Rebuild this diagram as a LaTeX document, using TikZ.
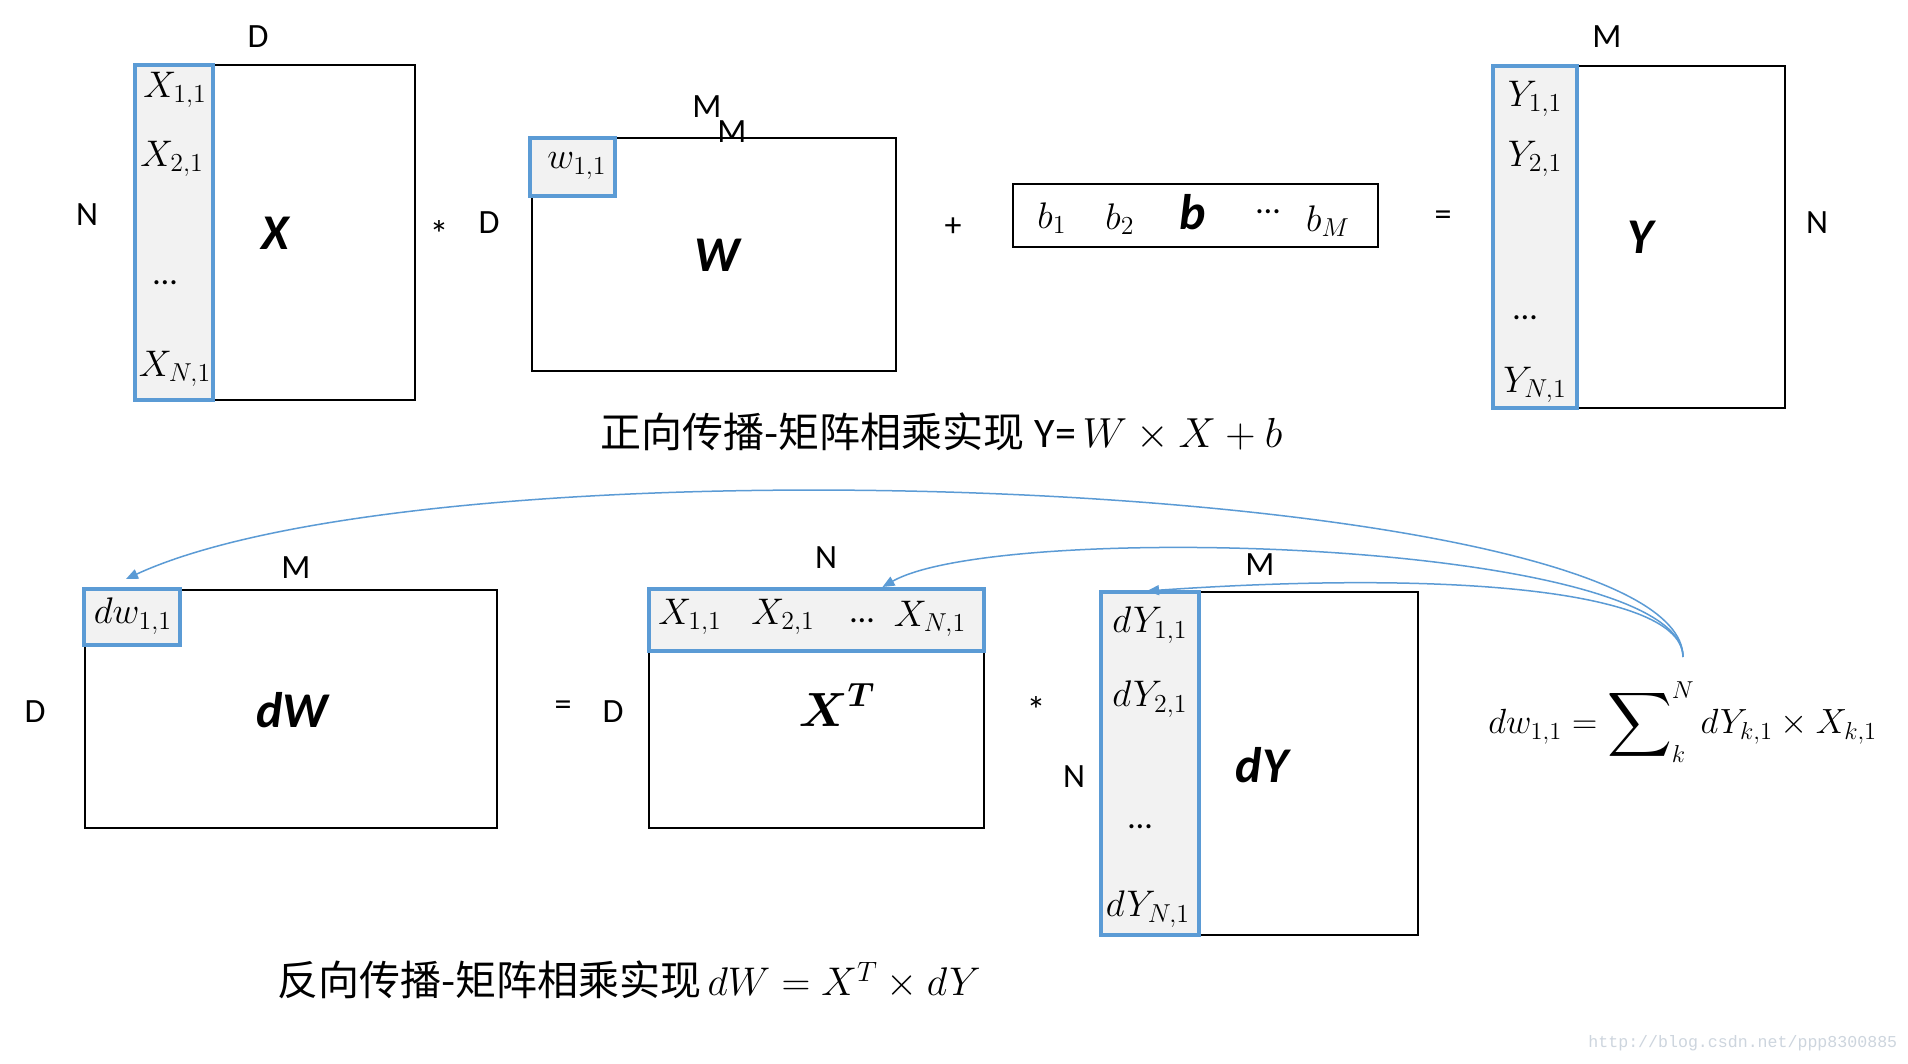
\RequirePackage{fix-cm}
\documentclass[tikz,border=0pt]{standalone}
\usepackage{amsmath}
\usepackage{graphicx}
\usepackage{fontspec}
\newfontfamily\carl{Carlito}
\newfontfamily\cjk{Noto Sans CJK SC}
\newfontfamily\wmfont{Liberation Mono}
\usetikzlibrary{arrows.meta,calc}
\definecolor{mblue}{RGB}{91,155,213}
\definecolor{cellgray}{RGB}{242,242,242}
\definecolor{wmgray}{RGB}{205,213,222}
\begin{document}
\begin{tikzpicture}[x=0.5pt,y=-0.5pt,
  mat/.style={draw=black,line width=1.3pt,inner sep=0pt,outer sep=0pt,anchor=north west},
  sel/.style={draw=mblue,fill=cellgray,line width=2pt,inner sep=0pt,outer sep=0pt,anchor=north west},
  dim/.style={font=\carl\fontsize{17}{20}\selectfont,inner sep=0pt},
  op/.style={font=\carl\fontsize{19}{22}\selectfont,inner sep=0pt},
  cell/.style={font=\fontsize{18.5}{22}\selectfont,inner sep=0pt},
  big/.style={font=\carl\bfseries\itshape\fontsize{25}{30}\selectfont,inner sep=0pt},
  flow/.style={draw=mblue,line width=0.75pt,-{Triangle[length=6pt,width=5pt]}}
]
\fill[white] (0,0) rectangle (1908,1064);
\useasboundingbox (0,0) rectangle (1908,1064);

% ---------- forward: X ----------
\node[mat,minimum width=140pt,minimum height=167.5pt] (Xm) at (135,65) {};
\node[sel,minimum width=39pt,minimum height=167.5pt] (Xc) at (135,65) {};
\node[dim] (dX) at (258,37) {D};
\node[dim] (nX) at (87,215) {N};
\node[cell] (x11) at (175,90) {$X_{1,1}$};
\node[cell] (x21) at (172,159) {$X_{2,1}$};
\node[dim] (xdots) at (165,283) {…};
\node[cell] (xn1) at (175,369) {$X_{N,1}$};
\node[big] (Xl) at (275,233) {X};
\node[op] (star1) at (439,234) {*};

% ---------- W ----------
\node[mat,minimum width=182pt,minimum height=116.5pt] (Wm) at (532,138) {};
\node[sel,minimum width=42.5pt,minimum height=29pt] (wc) at (530,138) {};
\node[dim] (dW) at (489,223) {D};
\node[dim] (mW1) at (707,107) {M};
\node[dim] (mW2) at (732,132) {M};
\node[cell] (w11) at (577,166) {$w_{1,1}$};
\node[big] (Wl) at (717,255) {W};

% ---------- b ----------
\node[dim] (plus) at (953,227) {+};
\node[mat,minimum width=182.5pt,minimum height=31.5pt] (bm) at (1013,184) {};
\node[cell] (b1) at (1052,218) {$b_1$};
\node[cell] (b2) at (1120,219) {$b_2$};
\node[big] (bl) at (1193,212) {b};
\node[dim] (bdots) at (1268,212) {…};
\node[cell] (bM) at (1328,221) {$b_M$};

% ---------- Y ----------
\node[dim] (eq1) at (1443,218) {=};
\node[mat,minimum width=146pt,minimum height=171pt] (Ym) at (1493,66) {};
\node[sel,minimum width=42pt,minimum height=171pt] (Yc) at (1493,66) {};
\node[dim] (mY) at (1607,37) {M};
\node[dim] (nY) at (1817,223) {N};
\node[cell] (y11) at (1535,99) {$Y_{1,1}$};
\node[cell] (y21) at (1535,159) {$Y_{2,1}$};
\node[dim] (ydots) at (1525,318) {…};
\node[cell] (yn1) at (1535,385) {$Y_{N,1}$};
\node[big] (Yl) at (1640,237) {Y};

\node[anchor=west,inner sep=0pt] (cap1) at (600,432)
  {{\cjk\fontsize{20.5}{24}\selectfont 正向传播-矩阵相乘实现}\hspace{5pt}{\carl\fontsize{21}{24}\selectfont Y=}\ {\fontsize{21}{24}\selectfont$W\times X+b$}};

% ---------- backward: dW ----------
\node[mat,minimum width=206pt,minimum height=119pt] (dWm) at (85,590) {};
\node[sel,minimum width=48pt,minimum height=28pt] (dwc) at (84,589) {};
\node[dim] (mdW) at (296,568) {M};
\node[dim] (ddW) at (35,712) {D};
\node[cell] (dw11) at (133,616) {$dw_{1,1}$};
\node[big] (dWl) at (292,710) {dW};

% ---------- X^T ----------
\node[dim] (eq2) at (563,708) {=};
\node[mat,minimum width=167.5pt,minimum height=119.5pt] (XTm) at (649,589) {};
\node[sel,minimum width=167.5pt,minimum height=31pt] (xtrow) at (649,589) {};
\node[dim] (dXT) at (613,712) {D};
\node[dim] (nXT) at (826,558) {N};
\node[cell] (xt11) at (690,617) {$X_{1,1}$};
\node[cell] (xt21) at (783,617) {$X_{2,1}$};
\node[dim] (xtdots) at (862,621) {…};
\node[cell] (xtn1) at (930,619) {$X_{N,1}$};
\node[inner sep=0pt,font=\fontsize{24}{28}\selectfont] (XTl) at (837,705) {$\boldsymbol{X}^{\boldsymbol{T}}$};
\node[op] (star2) at (1036,710) {*};

% ---------- dY ----------
\node[mat,minimum width=158.5pt,minimum height=171.5pt] (dYm) at (1101,592) {};
\node[sel,minimum width=49pt,minimum height=171.5pt] (dyc) at (1101,592) {};
\node[dim] (mdY) at (1260,565) {M};
\node[dim] (ndY) at (1074,777) {N};
\node[cell] (dy11) at (1150,625) {$dY_{1,1}$};
\node[cell] (dy21) at (1150,699) {$dY_{2,1}$};
\node[dim] (dydots) at (1140,827) {…};
\node[cell] (dyn1) at (1148,909) {$dY_{N,1}$};
\node[big] (dYl) at (1262,765) {dY};

% ---------- formula ----------
\node[anchor=west,inner sep=0pt,font=\fontsize{17.5}{21}\selectfont] (fml) at (1488,722)
  {$dw_{1,1} = \mathop{\vcenter{\hbox{\scalebox{1.3}{$\displaystyle\sum$}}}}\nolimits_k^N dY_{k,1}\times X_{k,1}$};

\node[anchor=west,inner sep=0pt] (cap2) at (277,980)
  {{\cjk\fontsize{20.5}{24}\selectfont 反向传播-矩阵相乘实现}\hspace{3pt}{\fontsize{20}{24}\selectfont$dW = X^T\times dY$}};

% ---------- connectors ----------
\coordinate (src) at (1683,657);
\draw[flow] (src) .. controls (1683,480) and (450,430) .. ($(dwc.north)+(-6,-10)$);
\draw[flow] (src) .. controls (1683,540) and (1000,520) .. ($(xtrow.north)+(66,-2)$);
\draw[flow] (src) .. controls (1683,590) and (1450,570) .. ($(dyc.north)+(-3,-1)$);

% ---------- watermark ----------
\node[anchor=west,inner sep=0pt,text=wmgray,font=\wmfont\fontsize{8.3}{10}\selectfont] (wm) at (1588,1043) {http://blog.csdn.net/ppp8300885};
\end{tikzpicture}
\end{document}
